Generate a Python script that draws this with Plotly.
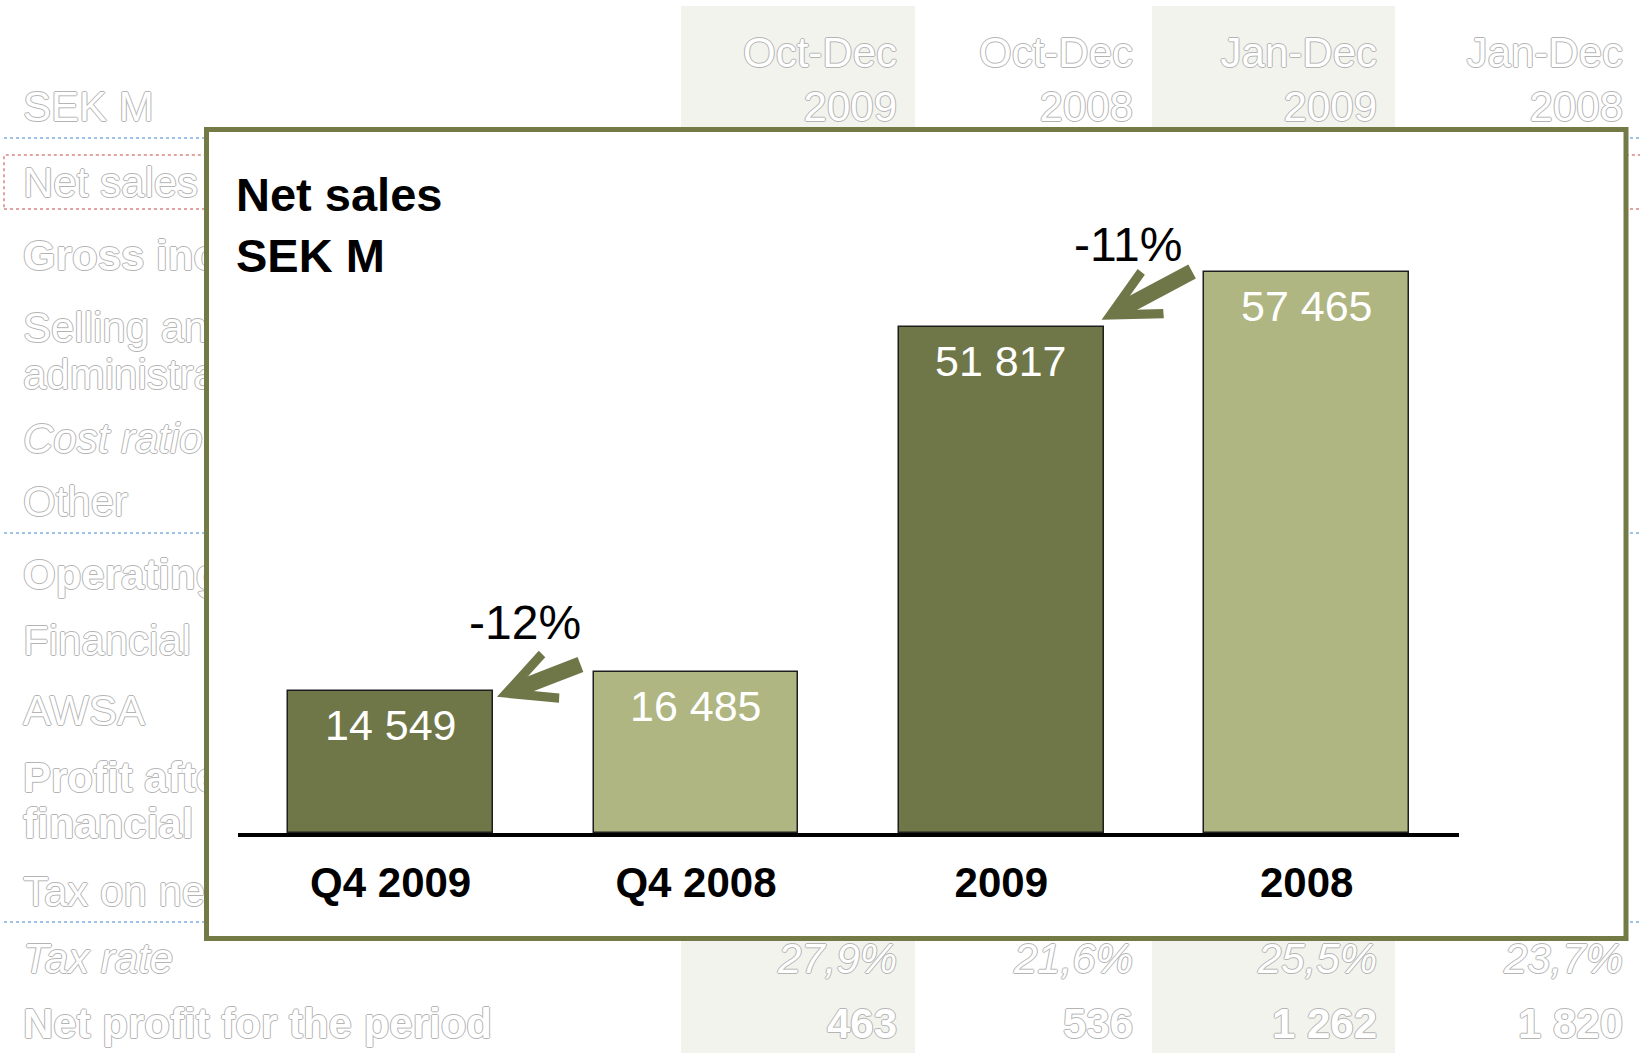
import plotly.graph_objects as go

W, H = 1640, 1053

# ---- Net sales chart data -------------------------------------------------
periods = ["Q4 2009", "Q4 2008", "2009", "2008"]
net_sales = [14549, 16485, 51817, 57465]          # SEK M
change_labels = ["-12%", "-11%"]                   # change vs. same period last year
change_bars = [0, 2]                               # bars the change arrows point at

# ---- Report table behind the chart ---------------------------------------
col_periods = ["Oct-Dec", "Oct-Dec", "Jan-Dec", "Jan-Dec"]
col_years = ["2009", "2008", "2009", "2008"]
row_labels = ["Net sales", "Gross income", "Selling and", "administrative expenses",
              "Cost ratio", "Other", "Operating income", "Financial items", "AWSA",
              "Profit after", "financial items", "Tax on net profit", "Tax rate",
              "Net profit for the period"]
tax_rate = ["27,9%", "21,6%", "25,5%", "23,7%"]
net_profit = ["463", "536", "1 262", "1 820"]

# ---- styling / layout constants ---------------------------------------------
DARK = "#6F7647"
LIGHT = "#AFB682"
FRAME = "#737A46"
bar_colors = [DARK, LIGHT, DARK, LIGHT]
FONT = "Arial, Liberation Sans, sans-serif"

col_right = [897, 1133, 1377, 1623]
row_y = [186, 259, 331, 378, 442, 505, 578, 644, 714, 781, 827, 895, 962, 1027]
row_style = ["regular", "bold", "regular", "regular", "italic", "regular", "bold",
             "regular", "regular", "bold", "bold", "regular", "italic", "bold"]
header_y = [56, 110]
OUTLINE = ("1px 0 0 #b4b4b4, -1px 0 0 #b4b4b4, 0 1px 0 #b4b4b4, 0 -1px 0 #b4b4b4")
BG_SIZE = 42

# arrow geometry per change label: tail offset (px) and tip nudge (px)
arrow_tail = [(85, -33), (92, -49)]
arrow_tip_shift = [(4, -6), (-2, 7)]
label_shift = [(32, 68), (25, 82)]


def bg_font(style):
    return dict(family=FONT, size=BG_SIZE, color="#ffffff", shadow=OUTLINE,
                weight=700 if style == "bold" else 400,
                style="italic" if style == "italic" else "normal")


fig = go.Figure()

# faded table text (subplot xy, pixel coordinates)
for style in ["regular", "bold", "italic"]:
    idx = [i for i, s in enumerate(row_style) if s == style]
    fig.add_trace(go.Scatter(
        x=[23] * len(idx), y=[row_y[i] for i in idx], text=[row_labels[i] for i in idx],
        mode="text", textposition="middle right", textfont=bg_font(style),
        xaxis="x", yaxis="y", hoverinfo="skip", showlegend=False))

fig.add_trace(go.Scatter(
    x=[23], y=[header_y[1]], text=["SEK M"], mode="text", textposition="middle right",
    textfont=bg_font("regular"), xaxis="x", yaxis="y", hoverinfo="skip", showlegend=False))
fig.add_trace(go.Scatter(
    x=col_right + col_right, y=[header_y[0]] * 4 + [header_y[1]] * 4,
    text=col_periods + col_years,
    mode="text", textposition="middle left", textfont=bg_font("regular"),
    xaxis="x", yaxis="y", hoverinfo="skip", showlegend=False))
fig.add_trace(go.Scatter(
    x=col_right, y=[row_y[12]] * 4, text=tax_rate, mode="text", textposition="middle left",
    textfont=bg_font("italic"), xaxis="x", yaxis="y", hoverinfo="skip", showlegend=False))
fig.add_trace(go.Scatter(
    x=col_right, y=[row_y[13]] * 4, text=net_profit, mode="text", textposition="middle left",
    textfont=bg_font("bold"), xaxis="x", yaxis="y", hoverinfo="skip", showlegend=False))

# frame layer (subplot x2y2, pixel coordinates)
fig.add_trace(go.Scatter(x=[], y=[], xaxis="x2", yaxis="y2", hoverinfo="skip",
                         showlegend=False))

# the bar chart (subplot x3y3)
fig.add_trace(go.Bar(
    x=list(range(len(periods))), y=net_sales, width=0.67,
    marker=dict(color=bar_colors, line=dict(color="#1e1e1e", width=1.5)),
    xaxis="x3", yaxis="y3", hoverinfo="skip", showlegend=False))

shapes = []
# shaded period columns of the table
for x0, x1 in [(681, 915), (1152, 1395)]:
    shapes.append(dict(type="rect", xref="paper", yref="paper", layer="below",
                       x0=x0 / W, x1=x1 / W, y0=0, y1=1 - 6 / H,
                       fillcolor="#F1F3EC", line=dict(width=0)))
# table rules
for yy in [138, 533, 922]:
    shapes.append(dict(type="line", xref="paper", yref="paper", layer="below",
                       x0=4 / W, x1=1, y0=1 - yy / H, y1=1 - yy / H,
                       line=dict(color="#9DC3E6", width=2, dash="dot")))
shapes.append(dict(type="rect", xref="paper", yref="paper", layer="below",
                   x0=4 / W, x1=1.01, y0=1 - 209 / H, y1=1 - 155 / H,
                   line=dict(color="#E3A3A3", width=2, dash="dot")))
# white chart panel with olive border
shapes.append(dict(type="rect", xref="x2", yref="y2", layer="below",
                   x0=206.5, x1=1626, y0=129.5, y1=938.5,
                   fillcolor="#ffffff", line=dict(color=FRAME, width=5)))

annotations = []
# title
annotations.append(dict(xref="x2", yref="y2", x=234, y=166, xanchor="left", yanchor="top",
                        align="left", showarrow=False, text="Net sales<br>SEK M",
                        font=dict(family=FONT, size=47, color="#000000", weight=700)))
# value labels inside the bars
for i, v in enumerate(net_sales):
    annotations.append(dict(xref="x3", yref="y3", x=i, y=v, yshift=-34, showarrow=False,
                            text=f"{v:,}".replace(",", " "),
                            font=dict(family=FONT, size=43, color="#ffffff")))
# change arrows and percentages
half = 0.67 / 2
for k, (lab, b) in enumerate(zip(change_labels, change_bars)):
    annotations.append(dict(xref="x3", yref="y3", x=b + half, y=net_sales[b], text="",
                            showarrow=True, arrowhead=5, arrowwidth=16, arrowsize=0.58,
                            arrowcolor=DARK, ax=arrow_tail[k][0], ay=arrow_tail[k][1],
                            xshift=arrow_tip_shift[k][0], yshift=arrow_tip_shift[k][1]))
    annotations.append(dict(xref="x3", yref="y3", x=b + half, y=net_sales[b],
                            xshift=label_shift[k][0], yshift=label_shift[k][1],
                            showarrow=False, text=lab,
                            font=dict(family=FONT, size=48, color="#000000")))

fig.update_layout(
    width=W, height=H, margin=dict(l=0, r=0, t=0, b=0),
    paper_bgcolor="#ffffff", plot_bgcolor="rgba(0,0,0,0)",
    hovermode=False, showlegend=False, bargap=0,
    xaxis=dict(domain=[0, 1], range=[0, W], visible=False, fixedrange=True, anchor="y"),
    yaxis=dict(domain=[0, 1], range=[H, 0], visible=False, fixedrange=True, anchor="x"),
    xaxis2=dict(domain=[0, 1], range=[0, W], visible=False, fixedrange=True, anchor="y2"),
    yaxis2=dict(domain=[0, 1], range=[H, 0], visible=False, fixedrange=True, anchor="x2"),
    xaxis3=dict(domain=[238 / W, 1459.3 / W], range=[-0.5, 3.5], anchor="y3",
                tickvals=list(range(len(periods))), ticktext=periods, ticks="",
                tickfont=dict(family=FONT, size=42, color="#000000", weight=700),
                ticklabelstandoff=10, showline=True, linecolor="#000000", linewidth=4,
                showgrid=False, zeroline=False, fixedrange=True),
    yaxis3=dict(domain=[1 - 833 / H, 1 - 133 / H], range=[0, 71650], anchor="x3",
                visible=False, fixedrange=True),
    shapes=shapes, annotations=annotations,
)

fig.write_html("out.html")
